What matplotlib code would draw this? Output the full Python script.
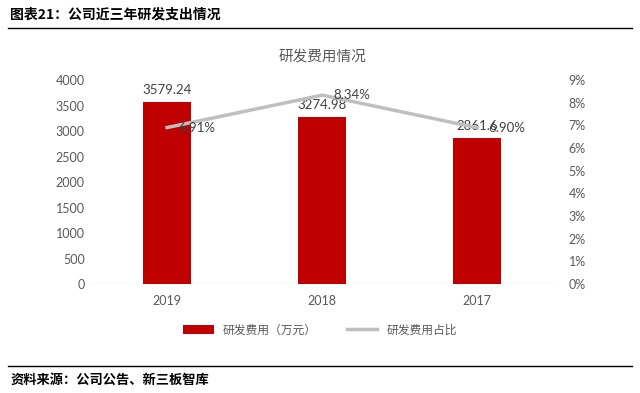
import matplotlib.pyplot as plt
import numpy as np

plt.rcParams['font.family'] = ['Lato', 'Noto Sans CJK SC', 'DejaVu Sans']

years = ['2019', '2018', '2017']
rd_cost = [3579.24, 3274.98, 2861.6]
rd_ratio = [6.91, 8.34, 6.90]
cost_labels = ['3579.24', '3274.98', '2861.6']
ratio_labels = ['6.91%', '8.34%', '6.90%']

grey = '#595959'
cjk = ['Noto Sans CJK SC', 'DejaVu Sans']

fig = plt.figure(figsize=(6.4, 3.93), dpi=100)
ax = fig.add_axes([0.14, 0.277, 0.727, 0.519])
x = np.arange(len(years))

bars = ax.bar(x, rd_cost, width=0.31, color='#C00000', label='研发费用（万元）', zorder=2)
ax.set_ylim(0, 4000)
ax.set_yticks(range(0, 4001, 500))
ax.set_xlim(-0.5, 2.5)
ax.set_xticks(x)
ax.set_xticklabels(years)
for s in ax.spines.values():
    s.set_visible(False)
ax.axhline(0, color='#D9D9D9', lw=1, zorder=1)
ax.tick_params(length=0, colors=grey, labelsize=9)
ax.tick_params(axis='x', pad=8)

# etiquetas de valor encima de las barras
for xi, v, t in zip(x, rd_cost, cost_labels):
    ax.text(xi, v + 120, t, ha='center', va='bottom', color='#404040', fontsize=9.5)

ax2 = ax.twinx()
line, = ax2.plot(x, rd_ratio, color='#BFBFBF', lw=2.5, label='研发费用占比', zorder=3)
ax2.set_ylim(0, 9)
ax2.set_yticks(range(0, 10))
ax2.set_yticklabels([f'{i}%' for i in range(10)])
for s in ax2.spines.values():
    s.set_visible(False)
ax2.tick_params(length=0, colors=grey, labelsize=9, pad=10)

for xi, v, t in zip(x, rd_ratio, ratio_labels):
    ax2.text(xi + 0.07, v, t, ha='left', va='center', color='#404040', fontsize=9.5)

ax.set_title('研发费用情况', fontsize=10.5, color=grey, family=cjk, pad=14)

fig.legend(handles=[bars, line], loc='center', bbox_to_anchor=(0.5, 0.16), ncol=2,
           frameon=False, prop={'family': cjk, 'size': 8.5}, labelcolor=grey,
           handlelength=2.6, columnspacing=2.5)

fig.text(0.016, 0.963, '图表21：公司近三年研发支出情况', fontsize=10, fontweight='bold',
         family=cjk, va='center', ha='left')
fig.add_artist(plt.Line2D([0.012, 0.988], [0.93, 0.93], color='black', lw=1))
fig.add_artist(plt.Line2D([0.012, 0.988], [0.069, 0.069], color='black', lw=1))
fig.text(0.016, 0.033, '资料来源：公司公告、新三板智库', fontsize=9.5, fontweight='bold',
         family=cjk, va='center', ha='left')

fig.savefig('out.png', dpi=100)
